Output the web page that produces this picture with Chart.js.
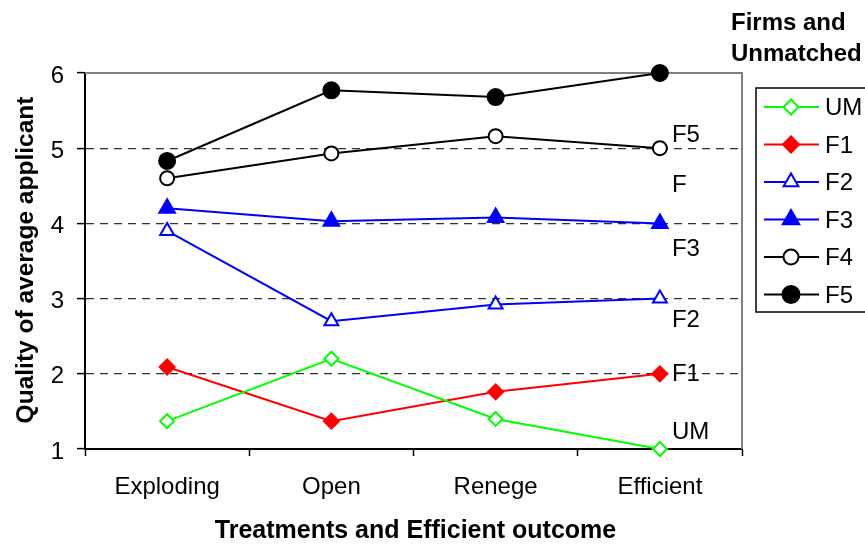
<!DOCTYPE html>
<html>
<head>
<meta charset="utf-8">
<script src="https://cdn.jsdelivr.net/npm/chart.js@4/dist/chart.umd.min.js"></script>
<style>
html,body{margin:0;padding:0;background:#fff;}
#wrap{width:865px;height:544px;position:relative;}
</style>
</head>
<body>
<div id="wrap"><canvas id="c" width="865" height="544"></canvas></div>
<script>
const categories = ["Exploding", "Open", "Renege", "Efficient"];
const seriesNames = ["UM", "F1", "F2", "F3", "F4", "F5"];
const umValues = [1.37, 2.2, 1.4, 1.0];
const f1Values = [2.09, 1.37, 1.76, 2.0];
const f2Values = [3.9, 2.7, 2.92, 3.0];
const f3Values = [4.2, 4.03, 4.08, 4.0];
const f4Values = [4.6, 4.93, 5.16, 5.0];
const f5Values = [4.83, 5.77, 5.68, 6.0];
const yTicks = [1, 2, 3, 4, 5, 6];
const endLabels = ["F5", "F", "F3", "F2", "F1", "UM"];
const endLabelValues = [5.2, 4.53, 3.68, 2.74, 2.01, 1.25];

const FONT = '"Liberation Sans", Arial, sans-serif';

function ds(label, data, color, style, filled, radius) {
  return {
    label, data,
    borderColor: color, borderWidth: 2,
    pointStyle: style, pointRadius: radius, pointHoverRadius: radius,
    pointBackgroundColor: filled ? color : '#ffffff',
    pointBorderColor: color, pointBorderWidth: 2,
    tension: 0, fill: false, clip: false
  };
}

const datasets = [
  ds(seriesNames[0], umValues, '#00ff00', 'rectRot', false, 7),
  ds(seriesNames[1], f1Values, '#ff0000', 'rectRot', true, 7.5),
  ds(seriesNames[2], f2Values, '#0000ff', 'triangle', false, 8),
  ds(seriesNames[3], f3Values, '#0000ff', 'triangle', true, 9),
  ds(seriesNames[4], f4Values, '#000000', 'circle', false, 7),
  ds(seriesNames[5], f5Values, '#000000', 'circle', true, 8)
];

const decor = {
  id: 'decor',
  beforeDatasetsDraw(chart) {
    const ctx = chart.ctx;
    const a = chart.chartArea;
    ctx.save();
    ctx.strokeStyle = '#808080';
    ctx.lineWidth = 2;
    ctx.beginPath();
    ctx.moveTo(a.left, a.top);
    ctx.lineTo(a.right, a.top);
    ctx.lineTo(a.right, a.bottom);
    ctx.stroke();
    ctx.restore();
  },
  afterDraw(chart, args, opts) {
    const ctx = chart.ctx;
    const a = chart.chartArea;
    const xs = chart.scales.x, ys = chart.scales.y;
    ctx.save();
    // end labels
    ctx.fillStyle = '#000';
    ctx.font = '24px ' + FONT;
    ctx.textAlign = 'left';
    ctx.textBaseline = 'alphabetic';
    const xEnd = xs.getPixelForValue(categories.length - 1) + 12;
    opts.labels.forEach((t, i) => {
      const y = ys.getPixelForValue(opts.values[i]);
      ctx.fillText(t, xEnd, y + 8.4);
    });
    // axis titles
    ctx.font = 'bold 25px ' + FONT;
    ctx.textAlign = 'center';
    ctx.fillText('Treatments and Efficient outcome', (a.left + a.right) / 2 + 2, 538);
    ctx.save();
    ctx.translate(33, (a.top + a.bottom) / 2 - 1);
    ctx.rotate(-Math.PI / 2);
    ctx.font = 'bold 24.5px ' + FONT;
    ctx.fillText('Quality of average applicant', 0, 0);
    ctx.restore();
    // legend title
    ctx.textAlign = 'left';
    ctx.font = 'bold 24px ' + FONT;
    ctx.fillText('Firms and', 731, 30);
    ctx.fillText('Unmatched', 731, 61);
    // legend box
    ctx.strokeStyle = '#000';
    ctx.lineWidth = 1.5;
    ctx.strokeRect(756, 88, 130, 224);
    chart.data.datasets.forEach((d, i) => {
      const cy = 107 + i * 37.5;
      ctx.strokeStyle = d.borderColor;
      ctx.lineWidth = 2;
      ctx.beginPath();
      ctx.moveTo(764, cy);
      ctx.lineTo(819, cy);
      ctx.stroke();
      ctx.fillStyle = d.pointBackgroundColor;
      ctx.strokeStyle = d.pointBorderColor;
      ctx.lineWidth = 2;
      Chart.helpers.drawPoint(ctx, {pointStyle: d.pointStyle, radius: d.pointRadius + 0.5, borderWidth: 2, rotation: 0}, 791, cy);
      ctx.fillStyle = '#000';
      ctx.font = '24px ' + FONT;
      ctx.fillText(d.label, 825, cy + 8.4);
    });
    ctx.restore();
  }
};

new Chart(document.getElementById('c'), {
  type: 'line',
  data: { labels: categories, datasets },
  plugins: [decor],
  options: {
    responsive: false,
    animation: false,
    events: [],
    layout: { padding: { left: 0, right: 123, top: 73, bottom: 0 } },
    plugins: {
      legend: { display: false },
      title: { display: false },
      tooltip: { enabled: false },
      decor: { labels: endLabels, values: endLabelValues }
    },
    scales: {
      x: {
        type: 'category',
        offset: true,
        grid: { display: true, offset: true, drawOnChartArea: false, drawTicks: true, tickLength: 7, tickColor: '#000', tickWidth: 1.5 },
        border: { display: true, color: '#000', width: 2 },
        ticks: { color: '#000', font: { family: FONT, size: 24 }, padding: 17, maxRotation: 0, autoSkip: false },
        afterFit(scale) { scale.height = 544 - 449; }
      },
      y: {
        min: yTicks[0],
        max: yTicks[yTicks.length - 1],
        afterBuildTicks(scale) { scale.ticks = yTicks.map(v => ({ value: v })); },
        grid: {
          display: true, drawOnChartArea: true, drawTicks: true, tickLength: 8,
          tickColor: '#000', tickWidth: 1.5, lineWidth: 1.2,
          color: (c) => (c.tick && c.tick.value > yTicks[0] && c.tick.value < yTicks[yTicks.length - 1]) ? '#333333' : 'rgba(0,0,0,0)'
        },
        border: { display: true, color: '#000', width: 2, dash: [8, 6] },
        ticks: { color: '#000', font: { family: FONT, size: 24 }, padding: 13, labelOffset: 3 },
        afterFit(scale) { scale.width = 85; }
      }
    }
  }
});
</script>
</body>
</html>
